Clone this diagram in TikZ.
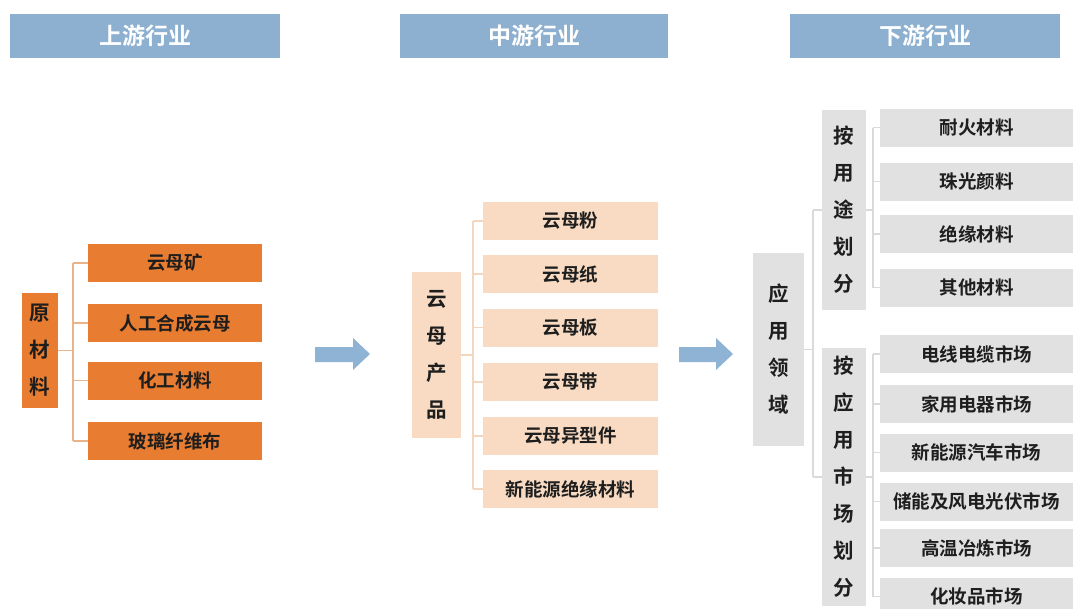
\documentclass[tikz,border=0pt]{standalone}
\usepackage{fontspec}
\setmainfont{Noto Sans CJK SC}[BoldFont={* Bold}]
\newfontfamily\cjkb{Noto Sans CJK SC Bold}
\definecolor{hdr}{HTML}{8DB0D0}
\definecolor{arr}{HTML}{8EB3D4}
\definecolor{org}{HTML}{E87C30}
\definecolor{orgln}{HTML}{E9B48A}
\definecolor{pch}{HTML}{F8DBC2}
\definecolor{pchln}{HTML}{F2D6BE}
\definecolor{gry}{HTML}{E1E1E1}
\definecolor{gryln}{HTML}{DADADA}
\definecolor{txt}{HTML}{1E1E1E}
\tikzset{
  hbox/.style={fill=hdr, text=white, minimum width=270pt, minimum height=44pt, inner sep=0pt, font=\cjkb\fontsize{23}{23}\selectfont},
  leaf/.style={minimum height=38pt, inner sep=0pt, text=txt, font=\cjkb\fontsize{18.5}{19}\selectfont},
  vbox/.style={inner sep=0pt, text=txt, align=center, font=\cjkb\fontsize{20.5}{37}\selectfont},
  conn/.style={line width=1.3pt},
}
\begin{document}
\begin{tikzpicture}[x=1pt,y=-1pt]
\useasboundingbox (0,0) rectangle (1073,608);
% headers
\node[hbox] (h1) at (145,36) {上游行业};
\node[hbox, minimum width=268pt] (h2) at (534,36) {中游行业};
\node[hbox] (h3) at (925,36) {下游行业};

% upstream
\node[vbox, fill=org, minimum width=36pt, minimum height=115pt] (raw) at (40,350.5) {原\\材\\料};
\begin{scope}[every node/.style={leaf, fill=org, minimum width=174pt}]
\node (u1) at (175,263) {云母矿};
\node (u2) at (175,323) {人工合成云母};
\node (u3) at (175,380.5) {化工材料};
\node (u4) at (175,441) {玻璃纤维布};
\end{scope}
\coordinate (bu) at (73,0);
\begin{scope}[conn, orgln]
\draw (raw.east) -- (raw.east -| bu);
\draw (u1.west -| bu) -- (u4.west -| bu);
\foreach \n in {u1,u2,u3,u4} \draw (\n.west -| bu) -- (\n.west);
\end{scope}

% arrow 1
\fill[arr] (315,347) -- (353,347) -- (353,338) -- (370,354) -- (353,370) -- (353,362) -- (315,362) -- cycle;

% midstream
\node[vbox, fill=pch, minimum width=49pt, minimum height=166pt] (prod) at (436.5,355) {云\\母\\产\\品};
\begin{scope}[every node/.style={leaf, fill=pch, minimum width=175pt}]
\node (m1) at (570.5,221) {云母粉};
\node (m2) at (570.5,274) {云母纸};
\node (m3) at (570.5,327.5) {云母板};
\node (m4) at (570.5,382) {云母带};
\node (m5) at (570.5,436) {云母异型件};
\node (m6) at (570.5,489) {新能源绝缘材料};
\end{scope}
\coordinate (bm) at (473,0);
\begin{scope}[conn, pchln]
\draw (prod.east) -- (prod.east -| bm);
\draw (m1.west -| bm) -- (m6.west -| bm);
\foreach \n in {m1,m2,m3,m4,m5,m6} \draw (\n.west -| bm) -- (\n.west);
\end{scope}

% arrow 2
\fill[arr] (679,347) -- (716,347) -- (716,338) -- (733,354) -- (716,370) -- (716,362) -- (679,362) -- cycle;

% downstream
\node[vbox, fill=gry, minimum width=51pt, minimum height=193pt] (dom) at (778.5,349.5) {应\\用\\领\\域};
\node[vbox, fill=gry, minimum width=44pt, minimum height=200pt] (use) at (844,210) {按\\用\\途\\划\\分};
\node[vbox, fill=gry, minimum width=44pt, minimum height=258pt] (mkt) at (844,477) {按\\应\\用\\市\\场\\划\\分};
\begin{scope}[every node/.style={leaf, fill=gry, minimum width=193pt}]
\node (a1) at (976.5,127.5) {耐火材料};
\node (a2) at (976.5,181.5) {珠光颜料};
\node (a3) at (976.5,234) {绝缘材料};
\node (a4) at (976.5,287.5) {其他材料};
\node (b1) at (976.5,354) {电线电缆市场};
\node (b2) at (976.5,404) {家用电器市场};
\node (b3) at (976.5,452.5) {新能源汽车市场};
\node (b4) at (976.5,501.5) {储能及风电光伏市场};
\node (b5) at (976.5,548) {高温冶炼市场};
\node (b6) at (976.5,596.5) {化妆品市场};
\end{scope}
\coordinate (bd) at (813,0);
\coordinate (br) at (873,0);
\begin{scope}[conn, gryln]
\draw (dom.east) -- (dom.east -| bd);
\draw (use.west -| bd) -- (mkt.west -| bd);
\draw (use.west -| bd) -- (use.west);
\draw (mkt.west -| bd) -- (mkt.west);
\draw (use.east) -- (use.east -| br);
\draw (a1.west -| br) -- (a4.west -| br);
\foreach \n in {a1,a2,a3,a4} \draw (\n.west -| br) -- (\n.west);
\draw (mkt.east) -- (mkt.east -| br);
\draw (b1.west -| br) -- (b6.west -| br);
\foreach \n in {b1,b2,b3,b4,b5,b6} \draw (\n.west -| br) -- (\n.west);
\end{scope}
\end{tikzpicture}
\end{document}
